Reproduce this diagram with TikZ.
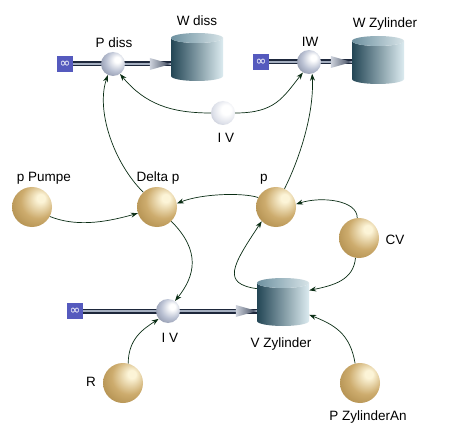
\documentclass[tikz,border=0pt]{standalone}
\usepackage{fontspec}
\setmainfont{Liberation Sans}
\newfontfamily\symfont{DejaVu Sans}
\usetikzlibrary{arrows.meta,positioning}
\definecolor{goldhi}{RGB}{252,244,215}
\definecolor{goldball}{RGB}{205,172,110}
\definecolor{goldmid}{RGB}{165,130,65}
\definecolor{goldlow}{RGB}{110,80,35}
\definecolor{valvehi}{RGB}{255,255,255}
\definecolor{valveball}{RGB}{185,192,210}
\definecolor{valvemid}{RGB}{120,128,150}
\definecolor{valvelow}{RGB}{70,78,100}
\definecolor{auxball}{RGB}{222,225,234}
\definecolor{auxmid}{RGB}{165,170,186}
\definecolor{linkgreen}{RGB}{10,45,20}
\definecolor{cloudblue}{RGB}{85,90,190}
\definecolor{tankdark}{RGB}{35,70,85}
\definecolor{tanklight}{RGB}{220,235,240}
\definecolor{topdark}{RGB}{110,145,160}
\definecolor{toplight}{RGB}{215,228,232}
\definecolor{pipedark}{RGB}{30,40,60}
\definecolor{pipelight}{RGB}{165,175,192}
\definecolor{conelight}{RGB}{205,210,220}
\definecolor{conedark}{RGB}{60,70,90}
\pgfdeclareradialshading{goldshade}{\pgfpoint{12bp}{12bp}}{color(0bp)=(goldhi); color(5bp)=(goldhi); color(22bp)=(goldball); color(42bp)=(goldmid); color(64bp)=(goldlow)}
\pgfdeclareradialshading{valveshade}{\pgfpoint{10bp}{10bp}}{color(0bp)=(valvehi); color(6bp)=(valvehi); color(22bp)=(valveball); color(42bp)=(valvemid); color(62bp)=(valvelow)}
\pgfdeclareradialshading{auxshade}{\pgfpoint{8bp}{8bp}}{color(0bp)=(white); color(10bp)=(white); color(26bp)=(auxball); color(44bp)=(auxmid); color(62bp)=(valvemid)}
\tikzset{
    conv-ball/.style = {circle, minimum size=40pt, inner sep=0pt, shading=goldshade},
    valve-ball/.style = {circle, minimum size=24pt, inner sep=0pt, shading=valveshade},
    cloud/.style = {fill=cloudblue, minimum size=16pt, inner sep=0pt, text=white, font=\symfont\fontsize{13}{13}\selectfont},
    name-label/.style = {anchor=base, inner sep=0pt, font=\fontsize{13.5}{16}\selectfont},
    link/.style = {draw=linkgreen, line width=0.7pt, -{Stealth[length=7pt,width=5pt]}},
    pipe-outer/.style = {draw=pipedark, line width=5pt},
    pipe-inner/.style = {draw=pipelight, line width=1.4pt, yshift=0.8pt},
    tank/.pic = {
        \shade[left color=tankdark, right color=tanklight] (-26,-19) -- (-26,19) arc[start angle=180, end angle=0, x radius=26, y radius=5] -- (26,-19) arc[start angle=0, end angle=180, x radius=26, y radius=5] -- cycle;
        \shade[left color=topdark, right color=toplight] (0,-19) ellipse [x radius=26, y radius=5];
        \node[minimum width=52pt, minimum height=48pt, inner sep=0pt] (-box) {};
    },
    cone/.pic = {
        \shade[left color=conelight, right color=conedark] (-21,-6) -- (0,0) -- (-21,6) -- cycle;
    },
}
\begin{document}
\begin{tikzpicture}[x=1pt, y=-1pt]
\fill[white] (0,0) rectangle (458,441);
\useasboundingbox (0,0) rectangle (458,441);
% sources and stocks
\node[cloud] (pdissSrc) at (65,64) {∞};
\node[cloud] (iwSrc) at (261,62) {∞};
\node[cloud] (ivSrc) at (75,311) {∞};
\pic (wdiss) at (197,57) {tank};
\pic (wzyl) at (378,60) {tank};
\pic (vzyl) at (283,302) {tank};
% flows
\draw[pipe-outer] (pdissSrc.east) -- (pdissSrc.east -| wdiss-box.west);
\draw[pipe-inner] (pdissSrc.east) -- (pdissSrc.east -| wdiss-box.west);
\draw[pipe-outer] (iwSrc.east) -- (iwSrc.east -| wzyl-box.west);
\draw[pipe-inner] (iwSrc.east) -- (iwSrc.east -| wzyl-box.west);
\draw[pipe-outer] (ivSrc.east) -- (ivSrc.east -| vzyl-box.west);
\draw[pipe-inner] (ivSrc.east) -- (ivSrc.east -| vzyl-box.west);
\pic at (pdissSrc.east -| wdiss-box.west) {cone};
\pic at (iwSrc.east -| wzyl-box.west) {cone};
\pic at (ivSrc.east -| vzyl-box.west) {cone};
% valves and converters
\node[valve-ball] (pdiss) at (113,64) {};
\node[valve-ball] (iw) at (309,62) {};
\node[valve-ball] (ivBot) at (168,311) {};
\node[valve-ball, shading=auxshade] (ivTop) at (223,113) {};
\node[conv-ball] (ppumpe) at (32,207) {};
\node[conv-ball] (deltap) at (157,207) {};
\node[conv-ball] (p) at (276,207) {};
\node[conv-ball] (cv) at (359,238) {};
\node[conv-ball] (r) at (123,383) {};
\node[conv-ball] (pzyl) at (360,383) {};
% labels
\node[name-label] (wdissLbl) at (197,26) {W diss};
\node[name-label] (pdissLbl) at (114,48) {P diss};
\node[name-label] (wzylLbl) at (385,28) {W Zylinder};
\node[name-label] (iwLbl) at (310,47) {IW};
\node[name-label] (ivTopLbl) at (226,143) {I V};
\node[name-label] (ppumpeLbl) at (44,182) {p Pumpe};
\node[name-label] (deltapLbl) at (158,182) {Delta p};
\node[name-label] (pLbl) at (264,182) {p};
\node[name-label] (cvLbl) at (395,244) {CV};
\node[name-label] (vzylLbl) at (281,347) {V Zylinder};
\node[name-label] (ivBotLbl) at (170,342) {I V};
\node[name-label] (rLbl) at (91,386) {R};
\node[name-label] (pzylLbl) at (368,420) {P ZylinderAn};
% links
\draw[link] (ppumpe.-28) .. controls +(25,10) and +(-35,10) .. (deltap.-162);
\draw[link] (p.152) .. controls +(-15,-5) and +(25,-10) .. (deltap.10);
\draw[link] (deltap.133) .. controls +(-30,-30) and +(-12,35) .. (pdiss.-115);
\draw[link] (ivTop.west) .. controls +(-40,0) and +(25,30) .. (pdiss.-55);
\draw[link] (ivTop.east) .. controls +(40,0) and +(-20,25) .. (iw.-120);
\draw[link] (p.65) .. controls +(15,-30) and +(2,40) .. (iw.-75);
\draw[link] (deltap.-45) .. controls +(30,30) and +(20,-25) .. (ivBot.55);
\draw[link] (vzyl-box.153) .. controls +(-35,-5) and +(-30,45) .. (p.-135);
\draw[link] (cv.95) .. controls +(0,-18) and +(25,-8) .. (p.8);
\draw[link] (cv.-100) .. controls +(-2,22) and +(25,-5) .. (vzyl-box.24);
\draw[link] (r.75) .. controls +(0,-25) and +(-15,10) .. (ivBot.-140);
\draw[link] (pzyl.104) .. controls +(-5,-30) and +(25,10) .. (vzyl-box.-26);
\end{tikzpicture}
\end{document}
